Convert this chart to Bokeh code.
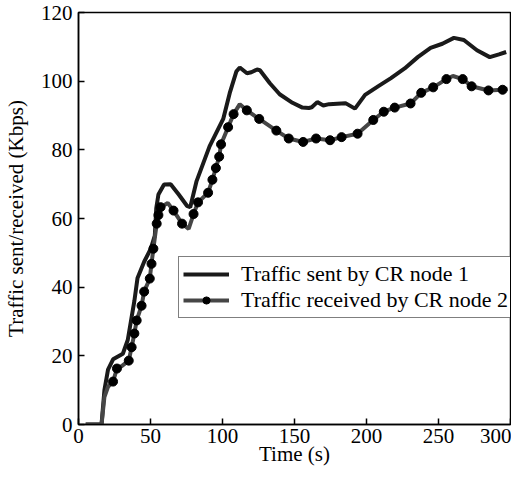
from bokeh.plotting import figure
from bokeh.models import Legend, LegendItem, Range1d, FixedTicker
from bokeh.embed import file_html
from bokeh.resources import INLINE

# ---- data ----
sent_x = [5, 16, 18, 20.5, 24, 30.8, 34.2, 38.8, 41, 45.6, 50.2, 53, 54, 55.5, 59.4, 64,
          69.6, 75.3, 77.6, 82, 91, 100.5, 105, 109.6, 112, 117, 120, 124, 126, 132.9,
          139.7, 148.6, 155.5, 160, 162, 165.8, 170, 174, 185.4, 192, 199, 208, 217,
          226.5, 235.6, 244.5, 252.7, 260.7, 267.6, 276.7, 285.6, 292, 297]
sent_y = [0, 0, 10, 16, 19, 20.6, 24.6, 36, 42.7, 47.4, 51.2, 55, 63, 67, 69.9, 70,
          67, 63.7, 63.3, 70.9, 81, 89, 96.5, 102.8, 104, 102.3, 102.6, 103.4, 103.2, 99.4,
          96.2, 93.7, 92.3, 92.2, 92.4, 93.9, 92.9, 93.3, 93.6, 92, 96, 98.5, 100.9,
          103.7, 107, 109.7, 110.9, 112.6, 112, 109, 107, 107.8, 108.5]

recv_x = [5, 16, 18, 20.5, 24, 26.7, 30, 34.9, 36.9, 38.8, 40.4, 43.8, 45.6, 49.5, 50.7,
          52, 54.3, 55.5, 57, 62, 66, 71.9, 76.5, 79.9, 83, 90, 93, 95.4, 97.7, 99, 103.9,
          107.7, 112, 116.9, 125.5, 137.4, 146, 156, 165, 174.7, 182.7, 193.8, 204.7, 212,
          219.6, 230.6, 238, 246.3, 255.5, 260, 266.8, 273, 284.7, 294.5, 298]
recv_y = [0, 0, 8, 11, 12.5, 16.3, 17, 18.6, 22.5, 26.5, 30.3, 34.6, 38.7, 42.5, 46.8,
          51.2, 58.5, 61, 63.3, 64.5, 62.3, 58.5, 57, 61.3, 64.7, 67.5, 71.3, 74.7, 78, 81.6, 86.6,
          90.4, 93.3, 91.5, 89, 85.6, 83.3, 82.3, 83.3, 82.8, 83.7, 84.7, 88.7, 91.1,
          92.3, 93.5, 96.6, 98.2, 100.6, 101.5, 100.6, 98.5, 97.3, 97.5, 97.8]

dot_x = [24, 26.7, 34.9, 36.9, 38.8, 40.4, 43.8, 45.6, 49.5, 50.7, 52, 54.3, 55.5, 57, 66,
         71.9, 79.9, 83, 90, 93, 95.4, 97.7, 99, 103.9, 107.7, 116.9, 125.5, 137.4, 146,
         156, 165, 174.7, 182.7, 193.8, 204.7, 212, 219.6, 230.6, 238, 246.3, 255.5,
         266.8, 273, 284.7, 294.5]
dot_y = [12.5, 16.3, 18.6, 22.5, 26.5, 30.3, 34.6, 38.7, 42.5, 46.8, 51.2, 58.5, 61, 63.3,
         62.3, 58.5, 61.3, 64.7, 67.5, 71.3, 74.7, 78, 81.6, 86.6, 90.4, 91.5, 89, 85.6,
         83.3, 82.3, 83.3, 82.8, 83.7, 84.7, 88.7, 91.1, 92.3, 93.5, 96.6, 98.2, 100.6,
         100.6, 98.5, 97.3, 97.5]

x_ticks = [0, 50, 100, 150, 200, 250, 300]
y_ticks = [0, 20, 40, 60, 80, 100, 120]
x_title = "Time (s)"
y_title = "Traffic sent/received (Kbps)"
label_sent = "Traffic sent by CR node 1"
label_recv = "Traffic received by CR node 2"

FONT = "Liberation Serif"
FS = "21px"

p = figure(width=511, height=468, output_backend="svg", toolbar_location=None,
           x_range=Range1d(0, 300), y_range=Range1d(0, 120),
           min_border_left=72, min_border_right=1, min_border_top=12, min_border_bottom=42)
p.background_fill_color = "white"
p.border_fill_color = "white"
p.grid.visible = False
p.outline_line_color = "black"
p.outline_line_width = 1.5

r_sent = p.line(sent_x, sent_y, line_color="#1a1a1a", line_width=4)
r_recv = p.line(recv_x, recv_y, line_color="#464646", line_width=4)
r_dots = p.scatter(dot_x, dot_y, marker="circle", size=9, fill_color="black", line_color="black")

for ax in (p.xaxis[0], p.yaxis[0]):
    ax.major_tick_in = 6
    ax.major_tick_out = 0
    ax.minor_tick_in = 0
    ax.minor_tick_out = 0
    ax.axis_line_color = "black"
    ax.axis_line_width = 1.5
    ax.major_tick_line_width = 1.5
    ax.major_label_text_font = FONT
    ax.major_label_text_font_size = FS
    ax.major_label_text_color = "black"
    ax.axis_label_text_font = FONT
    ax.axis_label_text_font_size = FS
    ax.axis_label_text_font_style = "normal"
    ax.axis_label_text_color = "black"

p.xaxis.ticker = FixedTicker(ticks=x_ticks)
p.yaxis.ticker = FixedTicker(ticks=y_ticks)
p.xaxis.axis_label = x_title
p.yaxis.axis_label = y_title
p.xaxis.major_label_standoff = 4
p.xaxis.axis_label_standoff = -4
p.yaxis.major_label_standoff = 6
p.yaxis.axis_label_standoff = 10

legend = Legend(items=[LegendItem(label=label_sent, renderers=[r_sent]),
                       LegendItem(label=label_recv, renderers=[r_recv, r_dots])],
                location=(100, 106))
legend.label_text_font = FONT
legend.label_text_font_size = "22px"
legend.label_text_color = "black"
legend.border_line_color = "black"
legend.border_line_width = 1.5
legend.glyph_width = 46
legend.glyph_height = 18
legend.label_height = 18
legend.spacing = -6
legend.padding = 4
legend.margin = 0
legend.label_standoff = 12
legend.background_fill_alpha = 1
p.add_layout(legend)

open("out.html", "w").write(file_html(p, INLINE))
